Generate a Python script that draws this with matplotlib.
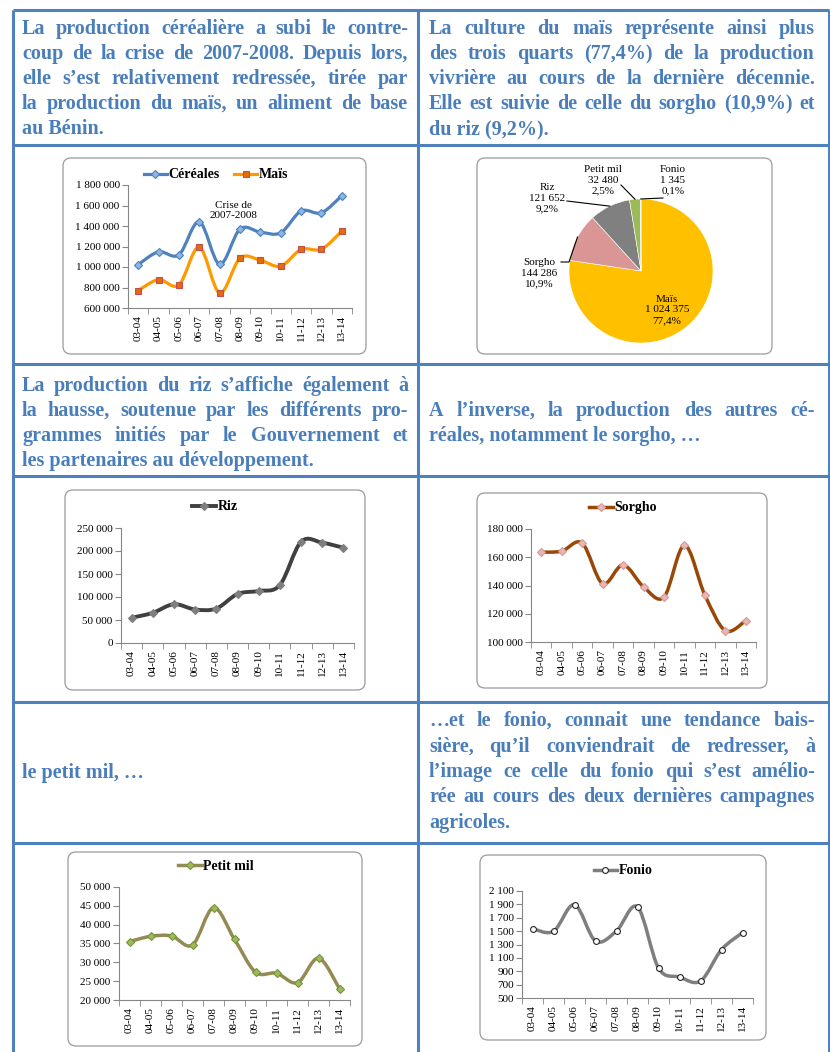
import matplotlib
matplotlib.use('Agg')
import matplotlib.pyplot as plt
from matplotlib.path import Path
from matplotlib.patches import PathPatch, FancyBboxPatch
from matplotlib.lines import Line2D
from matplotlib.ticker import FuncFormatter
import numpy as np

plt.rcParams['font.family'] = ['Liberation Serif', 'DejaVu Serif']

W, H = 830, 1052

# ---- data ----
campagnes = ['03-04', '04-05', '05-06', '06-07', '07-08', '08-09',
             '09-10', '10-11', '11-12', '12-13', '13-14']
cereales = [1024000, 1148000, 1119000, 1441000, 1027000, 1370000,
            1340000, 1334000, 1546000, 1529000, 1696000]
mais = [770000, 877000, 825000, 1194000, 747000, 1086000,
        1066000, 1008000, 1171000, 1174000, 1350000]
riz = [54800, 65600, 84300, 72800, 74900, 106600,
       113100, 126000, 220000, 218000, 207000]
sorgho = [163600, 164300, 170000, 141300, 154600, 139100,
          131800, 168400, 133200, 108000, 115200]
petit_mil = [35500, 36900, 37000, 34600, 44500, 36100,
             27400, 27100, 24600, 31100, 23000]
fonio = [1537, 1497, 1896, 1352, 1502, 1861, 948, 814, 754, 1223, 1477]

pie_labels = ['Maïs', 'Sorgho', 'Riz', 'Petit mil', 'Fonio']
pie_values = [1024375, 144286, 121652, 32480, 1345]
pie_colors = ['#FFC000', '#DA9694', '#808080', '#9BBB59', '#4BACC6']

txt_cereales = ["La production céréalière a subi le contre-",
                "coup de la crise de 2007-2008. Depuis lors,",
                "elle s’est relativement redressée, tirée par",
                "la production du maïs, un aliment de base",
                "au Bénin."]
txt_mais = ["La culture du maïs représente ainsi plus",
            "des trois quarts (77,4%) de la production",
            "vivrière au cours de la dernière décennie.",
            "Elle est suivie de celle du sorgho (10,9%) et",
            "du riz (9,2%)."]
txt_riz = ["La production du riz s’affiche également à",
           "la hausse, soutenue par les différents pro-",
           "grammes initiés par le Gouvernement et",
           "les partenaires au développement."]
txt_sorgho = ["A l’inverse, la production des autres cé-",
              "réales, notamment le sorgho, …"]
txt_mil = ["le petit mil, …"]
txt_fonio = ["…et le fonio, connait une tendance bais-",
             "sière, qu’il conviendrait de redresser, à",
             "l’image ce celle du fonio qui s’est amélio-",
             "rée au cours des deux dernières campagnes",
             "agricoles."]

BLUE = '#4F81BD'
TXT = '#4a7ebb'
AXC = '#868686'
COLW = 386


def fmt(v):
    return f"{int(round(v)):,}".replace(',', ' ')


fig = plt.figure(figsize=(W / 100, H / 100), dpi=100)
bg = fig.add_axes([0, 0, 1, 1])
bg.set_xlim(0, W)
bg.set_ylim(H, 0)
bg.axis('off')
renderer = fig.canvas.get_renderer()

# table grid
for yy in [10, 145, 364, 476, 702, 843]:
    bg.plot([13, 829], [yy, yy], color=BLUE, lw=2.2, solid_capstyle='butt')
for xx in [13, 418, 829]:
    bg.plot([xx, xx], [10, H], color=BLUE, lw=2.2, solid_capstyle='butt')

# chart frames
for (x0, y0, x1, y1) in [(63, 158, 366, 354), (477, 158, 772, 354),
                         (65, 490, 365, 690), (477, 493, 767, 688),
                         (68, 852, 362, 1046), (480, 855, 766, 1040)]:
    bg.add_patch(FancyBboxPatch((x0 + 8, y0 + 8), x1 - x0 - 16, y1 - y0 - 16,
                                boxstyle='round,pad=8', fc='white',
                                ec='#9a9a9a', lw=0.9))

# font size for the paragraphs: fit the widest full line in the column
full_lines = [p[i] for p in (txt_cereales, txt_mais, txt_riz, txt_sorgho,
                             txt_fonio) for i in range(len(p) - 1)]
probe = [bg.text(0, 0, s, fontsize=12, fontweight='bold') for s in full_lines]
widest = max(t.get_window_extent(renderer).width for t in probe)
for t in probe:
    t.remove()
PSIZE = min(12 * (COLW - 4) / widest, 14.5)


def paragraph(lines, x0, centers):
    x1 = x0 + COLW
    for k, (line, yc) in enumerate(zip(lines, centers)):
        yb = yc + 6
        words = line.split(' ')
        kw = dict(fontsize=PSIZE, fontweight='bold', color=TXT, va='baseline')
        if k == len(lines) - 1 or len(words) == 1:
            bg.text(x0, yb, line, **kw)
            continue
        texts = [bg.text(0, yb, w, **kw) for w in words]
        widths = [t.get_window_extent(renderer).width for t in texts]
        gap = (x1 - x0 - sum(widths)) / (len(words) - 1)
        x = x0
        for t, w in zip(texts, widths):
            t.set_x(x)
            x += w + gap


paragraph(txt_cereales, 22, [28, 53, 78, 103, 128])
paragraph(txt_mais, 429, [28, 53, 78, 103, 128])
paragraph(txt_riz, 22, [385, 410, 435, 460])
paragraph(txt_sorgho, 429, [410, 435])
paragraph(txt_mil, 22, [772])
paragraph(txt_fonio, 429, [720, 746, 771, 796, 822])


def px_axes(x0, y0, x1, y1):
    return fig.add_axes([x0 / W, 1 - y1 / H, (x1 - x0) / W, (y1 - y0) / H])


def smooth(ax, y, color, lw):
    x = np.arange(len(y), dtype=float)
    y = np.asarray(y, dtype=float)
    n = len(y)
    verts = [(x[0], y[0])]
    codes = [Path.MOVETO]
    for i in range(n - 1):
        a = max(i - 1, 0)
        b = min(i + 2, n - 1)
        c1 = (x[i] + (x[i + 1] - x[a]) / 6, y[i] + (y[i + 1] - y[a]) / 6)
        c2 = (x[i + 1] - (x[b] - x[i]) / 6, y[i + 1] - (y[b] - y[i]) / 6)
        verts += [c1, c2, (x[i + 1], y[i + 1])]
        codes += [Path.CURVE4] * 3
    ax.add_patch(PathPatch(Path(verts, codes), fill=False, ec=color, lw=lw,
                           capstyle='round', joinstyle='round', zorder=2))


def line_chart(axbox, series, ylim, step, legend_xy):
    ax = px_axes(*axbox)
    ax.set_facecolor('none')
    handles = []
    for name, vals, lc, lw, mk, mfc, mec, ms in series:
        smooth(ax, vals, lc, lw)
        ax.plot(range(len(vals)), vals, ls='none', marker=mk, mfc=mfc,
                mec=mec, ms=ms, mew=0.8, zorder=3)
        handles.append(Line2D([], [], color=lc, lw=lw, marker=mk, mfc=mfc,
                              mec=mec, ms=ms, mew=0.8, label=name))
    ax.set_xlim(-0.5, len(campagnes) - 0.5)
    ax.set_ylim(*ylim)
    ax.set_yticks(np.arange(ylim[0], ylim[1] + step / 2, step))
    ax.yaxis.set_major_formatter(FuncFormatter(lambda v, p: fmt(v)))
    ax.set_xticks(range(len(campagnes)))
    ax.set_xticklabels(campagnes, rotation=90)
    ax.set_xticks(np.arange(-0.5, len(campagnes), 1), minor=True)
    ax.tick_params(axis='x', which='major', length=0, pad=5, labelsize=8)
    ax.tick_params(axis='x', which='minor', length=4, color=AXC)
    ax.tick_params(axis='y', length=4, color=AXC, pad=2, labelsize=8)
    for s in ['top', 'right']:
        ax.spines[s].set_visible(False)
    for s in ['left', 'bottom']:
        ax.spines[s].set_color(AXC)
        ax.spines[s].set_linewidth(0.8)
    ax.legend(handles=handles, loc='center', ncol=len(handles),
              bbox_to_anchor=(legend_xy[0] / W, 1 - legend_xy[1] / H),
              bbox_transform=fig.transFigure, frameon=False,
              prop={'weight': 'bold', 'size': 10}, handlelength=1.7,
              handletextpad=0.1, columnspacing=1.0, borderpad=0)
    return ax


ax1 = line_chart((128, 185, 352, 308),
                 [('Céréales', cereales, '#4F81BD', 2.3, 'D', '#8EB4E3', '#4F81BD', 4.5),
                  ('Maïs', mais, '#FF9900', 2.3, 's', '#E46C0A', '#C0504D', 4.5)],
                 (600000, 1800000), 200000, (216, 175))
ax1.text(4.7, 1550000, 'Crise de\n2007-2008', ha='center', va='center',
         fontsize=8, linespacing=1.15)

line_chart((121, 528, 354, 643),
           [('Riz', riz, '#404040', 2.8, 'D', '#7F7F7F', '#7F7F7F', 4.5)],
           (0, 250000), 50000, (215, 507))
line_chart((531, 529, 756, 642),
           [('Sorgho', sorgho, '#984807', 2.5, 'D', '#E6B9B8', '#D99694', 4.2)],
           (100000, 180000), 20000, (623, 508))
line_chart((119, 887, 350, 1000),
           [('Petit mil', petit_mil, '#948A54', 2.5, 'D', '#9BBB59', '#77933C', 4)],
           (20000, 50000), 5000, (216, 866))
line_chart((522, 891, 753, 998),
           [('Fonio', fonio, '#7F7F7F', 2.5, 'o', 'white', '#262626', 4.2)],
           (500, 2100), 200, (623, 871))

# ---- pie ----
pa = px_axes(477, 158, 772, 354)
pa.axis('off')
cx, cy, r = 641, H - 271, 72
wedges, _ = pa.pie(pie_values, colors=pie_colors, startangle=90,
                   counterclock=False, center=(cx, cy), radius=r,
                   wedgeprops=dict(lw=0.4, ec='white'))
pa.set_xlim(477, 772)
pa.set_ylim(H - 354, H - 158)
total = sum(pie_values)
label_pos = [(667, 310), (539, 273), (547, 198), (603, 180), (673, 180)]
anchors = [None, [(561, 262), (569, 262)], [(567, 201)], [(621, 185)],
           [(663, 198)]]
for w, name, v, (lx, ly), anc in zip(wedges, pie_labels, pie_values,
                                      label_pos, anchors):
    pct = f"{100 * v / total:.1f}%".replace('.', ',')
    pa.text(lx, H - ly, f"{name}\n{fmt(v)}\n{pct}", ha='center',
            va='center', fontsize=8, linespacing=1.25)
    if anc:
        mid = np.radians((w.theta1 + w.theta2) / 2)
        pts = anc + [(cx + r * np.cos(mid), H - (cy + r * np.sin(mid)))]
        pa.plot([p[0] for p in pts], [H - p[1] for p in pts],
                color='black', lw=0.8)

fig.savefig('out.png', dpi=100)
